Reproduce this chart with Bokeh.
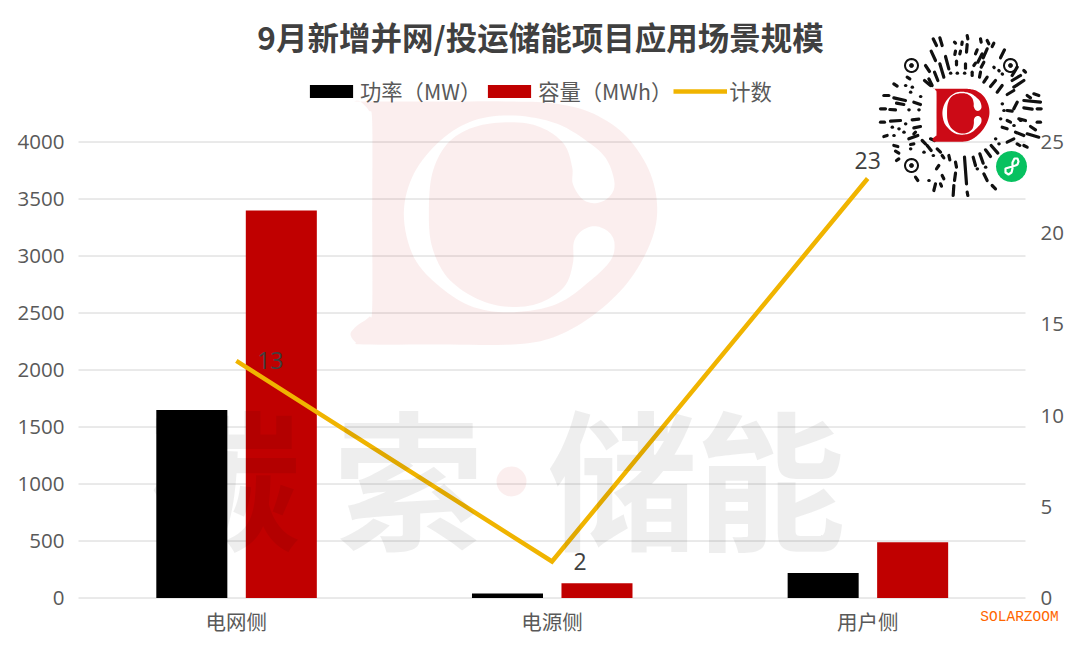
import numpy as np
from bokeh.plotting import figure
from bokeh.embed import file_html
from bokeh.resources import INLINE
from bokeh.core.properties import value
from bokeh.models import (ColumnDataSource, FixedTicker, Label, Legend, LegendItem,
                          LinearAxis, PolyAnnotation, Range1d)
from bokeh.transform import dodge

categories = ["电网侧", "电源侧", "用户侧"]
power_mw = [1650, 40, 220]
capacity_mwh = [3400, 130, 490]
counts = [13, 2, 23]
left_ticks = [0, 500, 1000, 1500, 2000, 2500, 3000, 3500, 4000]
right_ticks = [0, 5, 10, 15, 20, 25]

CJK = "Noto Sans CJK SC"
LAT = "Open Sans"
GREY = "#595959"

W, H = 1072, 646
PLOT_L, PLOT_R = 78, 1025       # where the categories span
Y0_PX = 597.5
PX_4000 = 456
Y_TOP = 4000 * Y0_PX / PX_4000
Y_BOT = -4000 * (H - Y0_PX) / PX_4000
cat_pos = [i + 0.5 for i in range(len(categories))]


def syn(px):
    return (np.asarray(px, dtype=float) - PLOT_L) / (PLOT_R - PLOT_L) * len(categories)


p = figure(width=W, height=H, output_backend="svg", toolbar_location=None,
           x_range=Range1d(float(syn(0)), float(syn(W))),
           y_range=Range1d(Y_BOT, Y_TOP),
           min_border_left=0, min_border_right=0, min_border_top=0, min_border_bottom=0)
p.outline_line_color = None
p.background_fill_color = "white"
p.extra_y_ranges = {"right": Range1d(Y_BOT * 25 / 4000, Y_TOP * 25 / 4000), "py": Range1d(H, 0)}

src = ColumnDataSource(dict(cat=cat_pos, power=power_mw, cap=capacity_mwh, n=counts,
                            lab=[str(c) for c in counts],
                            dx=[34, 28, 0], dy=[0, 0, -18]))

# axes
p.xaxis.fixed_location = 0
p.xaxis.ticker = FixedTicker(ticks=cat_pos)
p.xaxis.major_label_overrides = dict(zip(cat_pos, categories))
p.xaxis.axis_line_color = None
p.xaxis.major_tick_line_color = None
p.xaxis.minor_tick_line_color = None
p.xaxis.major_tick_out = 0
p.xaxis.major_label_text_font = CJK
p.xaxis.major_label_text_font_size = "20.5px"
p.xaxis.major_label_text_color = GREY
p.xaxis.major_label_standoff = 8
p.yaxis.fixed_location = float(syn(64))
p.yaxis.ticker = FixedTicker(ticks=left_ticks)
p.yaxis.axis_line_color = None
p.yaxis.major_tick_line_color = None
p.yaxis.minor_tick_line_color = None
p.yaxis.major_tick_out = 0
p.yaxis.major_label_text_font = LAT
p.yaxis.major_label_text_font_size = "20.5px"
p.yaxis.major_label_text_color = GREY
p.yaxis.major_label_standoff = 0
p.xgrid.visible = False
p.ygrid.visible = False

ax = LinearAxis(y_range_name="right", ticker=FixedTicker(ticks=right_ticks), fixed_location=float(syn(1040)),
                axis_line_color=None, major_tick_line_color=None, minor_tick_line_color=None,
                major_tick_out=0, major_label_text_font=LAT, major_label_text_font_size="20.5px",
                major_label_text_color=GREY, major_label_standoff=0)
p.add_layout(ax, "right")

# gridlines end where the categories end, not at the frame
p.segment(x0=[0] * len(left_ticks), x1=[len(categories)] * len(left_ticks), y0=left_ticks, y1=left_ticks,
          line_color="#d4d4d4", line_width=1, level="underlay")

# bars and line
r_p = p.vbar(x=dodge("cat", -0.141), top="power", width=0.225, bottom=0,
             source=src, color="#000000", line_color=None)
r_c = p.vbar(x=dodge("cat", 0.1425), top="cap", width=0.225, bottom=0,
             source=src, color="#c00000", line_color=None)
r_l = p.line(x="cat", y="n", source=src, y_range_name="right", line_color="#f0b400",
             line_width=4.5, line_join="miter")
p.text(x="cat", y="n", text="lab", source=src, y_range_name="right", x_offset="dx", y_offset="dy",
       text_font=value(LAT), text_font_size="23px", text_color="#404040",
       text_align="center", text_baseline="middle")


def smooth(xs, ys, n=8):
    """Closed Catmull-Rom rounding of a hand-read outline."""
    P = np.column_stack([xs, ys]).astype(float)
    out = []
    for i in range(len(P)):
        p0, p1, p2, p3 = P[i - 1], P[i], P[(i + 1) % len(P)], P[(i + 2) % len(P)]
        for t in np.linspace(0, 1, n, endpoint=False):
            out.append(0.5 * (2 * p1 + (p2 - p0) * t + (2 * p0 - 5 * p1 + 4 * p2 - p3) * t ** 2
                              + (3 * p1 - p0 - 3 * p2 + p3) * t ** 3))
    out = np.array(out)
    return out[:, 0], out[:, 1]


# "D" outline and its C-shaped opening (3x, origin 340,90)
D_OUT_X = [60, 85, 95, 95, 95, 85, 50, 30, 45, 70, 300, 520, 640, 750, 850, 920, 950, 930, 860, 760, 650, 520, 300, 60]
D_OUT_Y = [33, 60, 95, 370, 650, 680, 705, 730, 755, 762, 762, 762, 740, 680, 590, 480, 370, 250, 140, 70, 40, 33, 33, 33]
C_X = [822, 800, 750, 650, 520, 400, 300, 220, 190, 220, 300, 400, 520, 650, 750, 810, 822, 805, 765, 725, 700,
       697, 670, 590, 490, 400, 320, 275, 265, 275, 320, 400, 510, 600, 670, 695, 697, 725, 765, 805]
C_Y = [280, 210, 160, 100, 75, 90, 150, 250, 370, 500, 590, 650, 665, 640, 570, 510, 460, 425, 407, 420, 455,
       520, 590, 640, 648, 620, 560, 470, 370, 250, 160, 110, 95, 110, 160, 230, 280, 325, 338, 320]

dx, dy = smooth(D_OUT_X, D_OUT_Y)
cx_, cy_ = smooth(C_X, C_Y)
D_PX, D_PY = 340 + dx / 3, 90 + dy / 3
C_PX, C_PY = 340 + cx_ / 3, 90 + cy_ / 3

wm = dict(line_color=None, y_range_name="py")
p.multi_polygons(xs=[[[list(syn(D_PX)), list(syn(C_PX))]]], ys=[[[list(D_PY), list(C_PY)]]],
                 fill_color="#c00000", fill_alpha=0.065, **wm)
p.scatter(x=[float(syn(511))], y=[481], size=30, fill_color="#c00000", fill_alpha=0.065, **wm)

# grey text watermark
for ch, cx in zip(["碳", "索", "储", "能"], [225, 408, 622, 770]):
    p.add_layout(Label(x=cx, y=473, x_units="canvas", y_units="canvas", text=ch, text_font=CJK,
                       text_font_size="150px", text_font_style="bold", text_color="#000000",
                       text_alpha=0.065, text_align="center", text_baseline="middle"))

# title
p.add_layout(Label(x=540, y=35, x_units="canvas", y_units="canvas", text="9月新增并网/投运储能项目应用场景规模",
                   text_font=CJK, text_font_size="31.5px", text_font_style="bold",
                   text_color="#404040", text_align="center", text_baseline="middle"))

# legend
leg = Legend(items=[LegendItem(label="功率（MW）", renderers=[r_p]),
                    LegendItem(label="容量（MWh）", renderers=[r_c]),
                    LegendItem(label="计数", renderers=[r_l])],
             orientation="horizontal", location=(304, 492 + H - 598), background_fill_alpha=0,
             border_line_color=None, margin=0, padding=0, spacing=1, label_standoff=2,
             glyph_width=54, glyph_height=16, label_text_font=CJK, label_text_font_size="21.3px",
             label_text_color=GREY, label_height=20)
p.add_layout(leg, "center")

# SOLARZOOM mark
p.add_layout(Label(x=1019, y=616, x_units="canvas", y_units="canvas", text="SOLARZOOM",
                   text_font="Liberation Mono", text_font_size="14.5px",
                   text_color="#ff6600", text_align="center", text_baseline="middle"))

# QR-style badge: strokes (zoom coordinates, 3x, origin 860,20)
QR = [(218,55,228,75),(238,52,245,75),(320,45,322,55),(282,65,285,68),(305,65,304,72),(320,72,318,95),
      (360,55,362,65),(380,60,385,70),(400,68,395,78),(212,92,225,120),(255,108,265,145),(300,92,298,100),
      (285,92,283,102),(380,85,368,112),(432,88,420,112),(350,88,345,100),(365,100,352,125),(288,122,288,133),
      (315,130,315,143),(345,128,340,135),(370,125,362,140),(195,135,207,153),(238,130,250,170),(222,155,232,180),
      (205,175,215,195),(192,180,210,195),(270,158,271,158),(290,158,291,158),(312,158,313,158),(335,155,335,165),
      (360,155,357,170),(380,170,370,185),(405,180,390,198),(425,195,410,215),(400,140,401,141),(415,150,416,151),
      (425,160,426,161),(470,140,455,165),(490,150,495,155),(480,165,455,180),(490,180,460,200),(460,210,440,222),
      (100,190,110,197),(140,170,148,175),(135,195,136,195),(155,200,156,200),(150,215,151,215),(70,225,85,225),
      (100,232,135,240),(108,248,130,252),(160,245,180,252),(180,228,181,228),(60,265,75,265),(88,267,105,268),
      (145,268,146,268),(175,268,176,268),(60,305,72,305),(90,302,120,300),(135,310,136,310),(155,298,175,296),
      (95,320,96,320),(115,325,116,325),(160,322,180,318),(70,348,80,345),(100,345,101,345),(130,335,131,335),
      (145,355,172,345),(165,335,160,340),(100,375,112,378),(105,392,115,398),(150,372,160,370),(185,360,195,370),
      (210,355,222,360),(150,385,151,385),(200,375,212,390),(190,395,191,395),(108,420,115,415),(165,470,172,480),
      (230,385,240,395),(218,405,219,405),(245,405,250,412),(265,405,268,418),(235,435,228,445),(205,480,206,480),
      (245,465,250,475),(225,490,220,510),(240,490,243,497),(285,425,288,440),(285,458,282,480),(280,495,278,525),
      (312,410,318,490),(320,515,322,525),(338,410,345,435),(358,400,368,428),(375,388,390,408),(392,375,412,398),
      (370,460,380,480),(395,495,405,505),(350,445,351,445),(375,440,376,440),(415,370,416,370),(405,355,406,355),
      (440,365,460,355),(470,370,478,375),(490,375,500,380),(425,320,440,325),(465,335,490,345),(500,340,535,350),
      (440,300,450,305),(480,300,481,300),(460,315,461,315),(510,318,525,328),(475,295,495,300),(530,305,540,305),
      (425,250,426,250),(430,270,431,270),(440,270,455,272),(420,295,421,295),(470,245,460,265),(490,262,515,266),
      (520,220,535,225),(490,240,540,245),(500,225,510,232),(530,265,542,265)]


def poly(xs, ys, **kw):
    kw.setdefault("line_alpha", 1)
    p.add_layout(PolyAnnotation(xs=[float(x) for x in xs], ys=[float(y) for y in ys],
                                xs_units="canvas", ys_units="canvas", **kw))


for x1, y1, x2, y2 in QR:
    poly([860 + x1 / 3, 860 + x2 / 3], [20 + y1 / 3, 20 + y2 / 3], fill_alpha=0, line_color="#111111",
         line_width=3.2, line_cap="round", line_join="round")

th = np.linspace(0, 2 * np.pi, 25)[:-1]
for cx, cy in [(911, 65), (1010, 65), (911, 165)]:
    poly(cx + 6.5 * np.cos(th), cy + 6.5 * np.sin(th), fill_alpha=0, line_color="#111111", line_width=2)
    poly(cx + 2 * np.cos(th), cy + 2 * np.sin(th), fill_color="#111111", fill_alpha=1, line_color="#111111", line_width=1)

# mini-program badge
poly(1011 + 15.5 * np.cos(th), 166 + 15.5 * np.sin(th), fill_color="#07c160", fill_alpha=1, line_color=None)
poly([1005, 1005, 1008, 1011, 1012, 1012, 1012, 1014, 1017, 1018, 1017, 1015],
     [168, 172, 174, 172, 168, 164, 162, 158, 158, 161, 164, 165], fill_alpha=0, line_color="white", line_width=2.2,
     line_join="round", line_cap="round")

# logo in centre of the badge, same outline as the watermark
SX, SY = 57 / 307, 53 / 243
poly(932 + (D_PX - 350) * SX, 88 + (D_PY - 100) * SY, fill_color="#cc0a16", fill_alpha=1, line_color=None)
poly(932 + (C_PX - 350) * SX, 88 + (C_PY - 100) * SY, fill_color="#ffffff", fill_alpha=1, line_color=None)

open("out.html", "w").write(file_html(p, INLINE))
